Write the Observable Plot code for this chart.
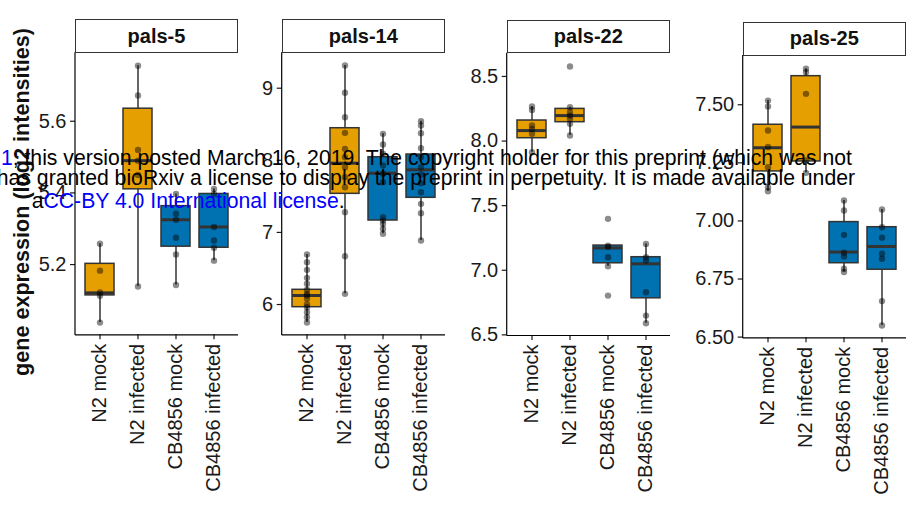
<!DOCTYPE html>
<html><head><meta charset="utf-8">
<script src="https://cdn.jsdelivr.net/npm/d3@7"></script>
<script src="https://cdn.jsdelivr.net/npm/@observablehq/plot@0.6"></script>
<style>
body{margin:0;background:#fff;overflow:hidden;}
#wrap{position:relative;width:920px;height:510px;overflow:hidden;font-family:"Liberation Sans",Arial,sans-serif;background:#fff;}
.panel{position:absolute;top:0;}
.strip{position:absolute;box-sizing:border-box;border:1.5px solid #333;background:#fff;font-weight:bold;font-size:20px;display:flex;align-items:center;justify-content:center;color:#111;}
.ytitle{position:absolute;width:400px;height:24px;line-height:24px;text-align:center;font-weight:bold;font-size:21.6px;color:#111;transform:rotate(-90deg);white-space:nowrap;}
.wm{position:absolute;white-space:nowrap;font-size:21.2px;line-height:1;color:#000;z-index:5;}
.blue{color:#0000ff;}
</style>
</head><body><div id="wrap"></div>
<script>
// ---------- data ----------
const genes = ["pals-5", "pals-14", "pals-22", "pals-25"];
const groups = ["N2 mock", "N2 infected", "CB4856 mock", "CB4856 infected"];
const strains = ["N2", "N2", "CB4856", "CB4856"];
const strainColors = ["#E69F00", "#0072B2"];

// box statistics per gene, per group: [lower whisker, Q1, median, Q3, upper whisker]
const boxPals5  = [[5.038,5.114,5.121,5.202,5.258],[5.139,5.410,5.490,5.635,5.755],[5.143,5.250,5.325,5.363,5.397],[5.211,5.247,5.305,5.397,5.411]];
const boxPals14 = [[5.750,5.963,6.125,6.204,6.693],[6.148,7.535,7.960,8.445,9.315],[6.981,7.165,7.821,8.043,8.367],[6.888,7.480,7.868,8.080,8.542]];
const boxPals22 = [[7.913,8.022,8.081,8.159,8.267],[8.043,8.146,8.197,8.249,8.262],[7.031,7.054,7.173,7.191,7.191],[6.590,6.783,7.050,7.101,7.204]];
const boxPals25 = [[7.128,7.213,7.315,7.414,7.518],[7.207,7.256,7.404,7.623,7.655],[6.780,6.818,6.866,6.995,7.088],[6.550,6.790,6.890,6.973,7.049]];

// individual sample values per gene, per group
const ptsPals5 = [
  [5.258, 5.183, 5.122, 5.113, 5.038],
  [5.755, 5.672, 5.52, 5.49, 5.45, 5.139],
  [5.397, 5.342, 5.325, 5.275, 5.228, 5.143],
  [5.411, 5.397, 5.305, 5.267, 5.247, 5.211]
];
const ptsPals14 = [
  [6.693, 6.587, 6.481, 6.370, 6.287, 6.204, 6.148, 6.125, 6.079, 6.000, 5.963, 5.894, 5.824, 5.750],
  [9.315, 8.936, 8.598, 8.381, 8.159, 8.043, 7.904, 7.766, 7.627, 7.281, 6.670, 6.148],
  [8.367, 8.219, 8.090, 7.928, 7.813, 7.697, 7.211, 7.165, 7.119, 7.050, 6.981],
  [8.542, 8.483, 8.376, 8.168, 8.043, 7.904, 7.803, 7.683, 7.558, 7.396, 7.267, 6.888]
];
const ptsPals22 = [
  [8.267, 8.241, 8.120, 8.094, 8.056, 7.913],
  [8.577, 8.262, 8.223, 8.197, 8.172, 8.133, 8.043],
  [7.398, 7.191, 7.180, 7.101, 7.031, 6.804],
  [7.204, 7.101, 7.075, 6.830, 6.649, 6.590]
];
const ptsPals25 = [
  [7.518, 7.493, 7.389, 7.318, 7.231, 7.145, 7.128],
  [7.655, 7.640, 7.547, 7.260, 7.207],
  [7.088, 7.045, 6.940, 6.863, 6.847, 6.794, 6.780],
  [7.049, 6.973, 6.928, 6.859, 6.837, 6.655, 6.550]
];

// y axis tick values and domains
const ticksPals5  = [5.2, 5.4, 5.6];
const ticksPals14 = [6, 7, 8, 9];
const ticksPals22 = [6.5, 7.0, 7.5, 8.0, 8.5];
const ticksPals25 = [6.5, 6.75, 7.0, 7.25, 7.5];
const domains = [[5.004, 5.791], [5.580, 9.491], [6.495, 8.680], [6.497, 7.712]];
const tickFormats = [".1f", "d", ".1f", ".2f"];

const yLabel = "gene expression (log2 intensities)";

// ---------- layout ----------
const boxes = [boxPals5, boxPals14, boxPals22, boxPals25];
const pts = [ptsPals5, ptsPals14, ptsPals22, ptsPals25];
const ticks = [ticksPals5, ticksPals14, ticksPals22, ticksPals25];
const layout = [
  {x0: 0,   w: 240, L: 75,    R: 238, T: 52.3, B: 334.3},
  {x0: 240, w: 220, L: 281.7, R: 445, T: 52.3, B: 334.3},
  {x0: 460, w: 235, L: 506.7, R: 670, T: 52.7, B: 335},
  {x0: 695, w: 225, L: 742.7, R: 906, T: 55,   B: 337.3}
];
const stripTop = [19, 19, 20, 21.7];

const wrap = document.getElementById("wrap");
const FONT = "'Liberation Sans', Arial, sans-serif";
const SVGNS = "http://www.w3.org/2000/svg";

// left axis line, drawn from the frame dimensions
function leftAxisLine(index, scales, values, dims) {
  const l = document.createElementNS(SVGNS, "line");
  l.setAttribute("x1", dims.marginLeft);
  l.setAttribute("x2", dims.marginLeft);
  l.setAttribute("y1", dims.marginTop);
  l.setAttribute("y2", dims.height - dims.marginBottom + 0.6);
  l.setAttribute("stroke", "#000");
  l.setAttribute("stroke-width", 1.2);
  return l;
}

genes.forEach((gene, i) => {
  const lo = layout[i];
  const boxData = groups.map((g, j) => ({
    group: g, strain: strains[j],
    lo: boxes[i][j][0], q1: boxes[i][j][1], med: boxes[i][j][2], q3: boxes[i][j][3], hi: boxes[i][j][4]
  }));
  const ptData = groups.flatMap((g, j) => pts[i][j].map(v => ({group: g, value: v})));
  const svg = Plot.plot({
    width: lo.w, height: 510,
    marginLeft: lo.L - lo.x0, marginRight: lo.x0 + lo.w - lo.R,
    marginTop: lo.T, marginBottom: 510 - lo.B,
    style: {background: "transparent", fontFamily: FONT, fontSize: "20px", color: "#1a1a1a", overflow: "visible"},
    x: {domain: groups, paddingInner: 0.25, paddingOuter: 0.225, label: null},
    y: {domain: domains[i], label: null},
    color: {domain: ["N2", "CB4856"], range: strainColors},
    marks: [
      Plot.ruleX(boxData, {x: "group", y1: "lo", y2: "hi", stroke: "#333", strokeWidth: 1.5}),
      Plot.barY(boxData, {x: "group", y1: "q1", y2: "q3", fill: "strain", stroke: "#333", strokeWidth: 1.5}),
      Plot.tickY(boxData, {x: "group", y: "med", stroke: "#333", strokeWidth: 3}),
      Plot.dot(ptData, {x: "group", y: "value", r: 3.2, fill: "#000", fillOpacity: 0.45, stroke: "none"}),
      Plot.axisY({ticks: ticks[i], tickFormat: d3.format(tickFormats[i]), tickSize: 5, tickPadding: 4, label: null, fontSize: 20, strokeWidth: 1.2}),
      Plot.axisX({tickRotate: -90, tickSize: 5, tickPadding: 4, label: null, fontSize: 20, strokeWidth: 1.2}),
      Plot.ruleY([domains[i][0]], {stroke: "#000", strokeWidth: 1.2}),
      leftAxisLine
    ]
  });
  svg.classList.add("panel");
  svg.style.left = lo.x0 + "px";
  wrap.appendChild(svg);

  const strip = document.createElement("div");
  strip.className = "strip";
  strip.textContent = gene;
  strip.style.left = lo.L + "px";
  strip.style.top = stripTop[i] + "px";
  strip.style.width = (lo.R - lo.L) + "px";
  strip.style.height = (lo.T - stripTop[i] + 0.7) + "px";
  wrap.appendChild(strip);
});

const yt = document.createElement("div");
yt.className = "ytitle";
yt.textContent = yLabel;
yt.style.left = (22 - 200) + "px";
yt.style.top = (202 - 12) + "px";
wrap.appendChild(yt);

// watermark overlay
const wm1 = document.createElement("div");
wm1.className = "wm";
wm1.style.right = (920 - 852) + "px";
wm1.style.top = "147px";
wm1.innerHTML = '<span class="blue">1</span>; this version posted March 16, 2019. The copyright holder for this preprint (which was not';
wrap.appendChild(wm1);
const wm2 = document.createElement("div");
wm2.className = "wm";
wm2.style.right = (920 - 855) + "px";
wm2.style.top = "167px";
wm2.textContent = "has granted bioRxiv a license to display the preprint in perpetuity. It is made available under";
wrap.appendChild(wm2);
const wm3 = document.createElement("div");
wm3.className = "wm";
wm3.style.left = "31.7px";
wm3.style.top = "190px";
wm3.innerHTML = 'a<span class="blue">CC-BY 4.0 International license</span>.';
wrap.appendChild(wm3);
</script>
</body></html>
